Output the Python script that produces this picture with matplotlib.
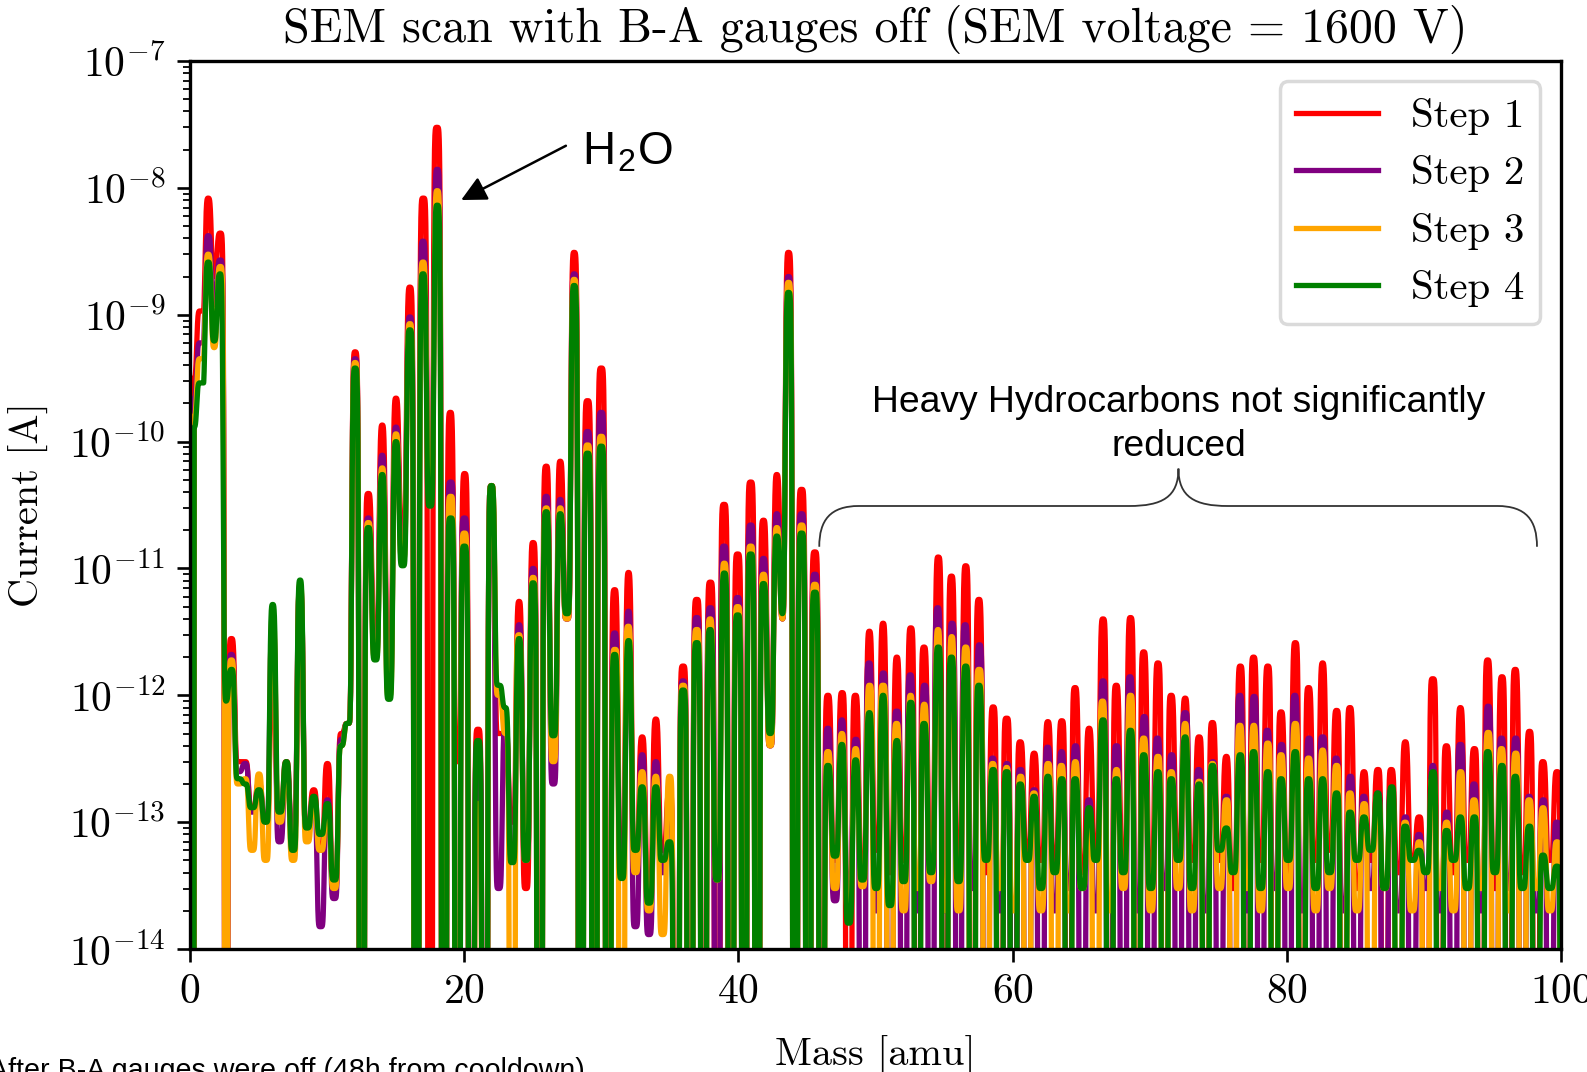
import numpy as np
import matplotlib
matplotlib.use("Agg")
import matplotlib.pyplot as plt
from matplotlib.path import Path
from matplotlib.patches import PathPatch
from matplotlib.transforms import blended_transform_factory

OFF = 1e-16  # reading below the 1e-14 floor (zero / negative current)

masses = np.arange(1, 101)

# drift of the measured peak positions from the integer mass [amu]
drift_mass = [1, 2, 3, 30, 40, 43, 44, 47, 80, 100]
drift_amu = [0.33, 0.2, 0.04, 0.0, -0.05, -0.2, -0.36, -0.45, -0.4, -0.3]

scan_start_amu = 0.3
shoulder_amu = 0.72
scan_start = [3.2e-10, 2.2e-10, 1.6e-10, 1.3e-10]
shoulder = [1.07e-9, 6.0e-10, 4.5e-10, 2.9e-10]

step_labels = ["Step 1", "Step 2", "Step 3", "Step 4"]
step_colors = ["red", "purple", "orange", "green"]

# peak currents [A], masses 1..100
step1_peaks = [
    8.3e-9, 4.4e-9, 2.8e-12, 3.0e-13, 2.0e-13, 1.2e-12, 3.0e-13, 6.6e-12, 1.8e-13, 2.9e-13,
    5.0e-13, 5.1e-10, 3.9e-11, 1.35e-10, 2.2e-10, 1.65e-9, 8.3e-9, 3.0e-8, 1.7e-10, 5.6e-11,
    5.4e-13, 4.5e-11, 5.0e-13, 5.5e-12, 1.6e-11, 6.4e-11, 7.0e-11, 3.1e-9, 2.1e-10, 3.8e-10,
    6.8e-12, 9.3e-12, 4.7e-13, 6.5e-13, 1.7e-13, 1.7e-12, 5.7e-12, 7.8e-12, 3.2e-11, 1.3e-11,
    4.8e-11, 2.4e-11, 5.5e-11, 3.1e-9, 4.2e-11, 1.35e-11, 1.0e-12, 1.05e-12, 1.0e-12, 3.2e-12,
    3.7e-12, 2.0e-12, 3.4e-12, 2.4e-12, 1.23e-11, 8.7e-12, 1.05e-11, 5.7e-12, 8.1e-13, 6.6e-13,
    4.3e-13, 3.5e-13, 6.2e-13, 6.3e-13, 1.15e-12, 5.5e-13, 4.0e-12, 1.2e-12, 4.1e-12, 2.2e-12,
    1.8e-12, 1.0e-12, 9.5e-13, 4.7e-13, 6.1e-13, 3.3e-13, 1.7e-12, 2.0e-12, 1.7e-12, 7.4e-13,
    2.6e-12, 1.15e-12, 1.8e-12, 7.6e-13, 8.0e-13, 2.5e-13, 2.6e-13, 2.6e-13, 4.3e-13, 1.1e-13,
    1.35e-12, 4.0e-13, 8.0e-13, 3.8e-13, 1.9e-12, 1.4e-12, 1.6e-12, 5.2e-13, 3.0e-13, 2.5e-13]
step2_peaks = [
    4.2e-9, 2.7e-9, 2.1e-12, 2.9e-13, 1.8e-13, 3.5e-12, 2.5e-13, 7.0e-12, 1.5e-13, 1.5e-13,
    4.5e-13, 4.5e-10, 2.5e-11, 7.8e-11, 1.3e-10, 9.6e-10, 3.8e-9, 1.4e-8, 4.8e-11, 2.5e-11,
    4.0e-13, 4.5e-11, 6.0e-13, 3.6e-12, 1.0e-11, 3.7e-11, 3.5e-11, 2.1e-9, 1.2e-10, 1.7e-10,
    3.1e-12, 4.6e-12, 3.4e-13, 3.0e-13, 1.5e-13, 1.3e-12, 4.1e-12, 4.9e-12, 1.5e-11, 5.9e-12,
    2.2e-11, 1.2e-11, 2.7e-11, 2.0e-9, 2.7e-11, 9.0e-12, 5.5e-13, 6.4e-13, 4.5e-13, 1.8e-12,
    1.5e-12, 7.5e-13, 1.45e-12, 1.2e-12, 4.9e-12, 3.7e-12, 3.6e-12, 2.5e-12, 3.2e-13, 2.9e-13,
    2.6e-13, 1.8e-13, 3.9e-13, 3.6e-13, 4.0e-13, 1.5e-13, 1.3e-12, 4.0e-13, 1.4e-12, 6.8e-13,
    4.6e-13, 3.4e-13, 7.3e-13, 2.6e-13, 3.0e-13, 1.6e-13, 1.0e-12, 9.8e-13, 5.3e-13, 4.1e-13,
    1.0e-12, 4.6e-13, 4.7e-13, 3.2e-13, 2.3e-13, 1.6e-13, 1.7e-13, 1.8e-13, 1.1e-13, 8.0e-14,
    2.8e-13, 1.2e-13, 4.1e-13, 2.0e-13, 8.2e-13, 4.6e-13, 4.6e-13, 1.6e-13, 1.5e-13, 1.0e-13]
step3_peaks = [
    3.0e-9, 2.4e-9, 1.9e-12, 2.2e-13, 2.4e-13, 4.0e-12, 2.6e-13, 7.5e-12, 1.4e-13, 1.2e-13,
    4.0e-13, 4.2e-10, 2.3e-11, 6.2e-11, 1.15e-10, 8.5e-10, 2.6e-9, 9.5e-9, 3.7e-11, 1.9e-11,
    1.4e-13, 4.5e-11, 5.0e-13, 3.0e-12, 8.5e-12, 3.0e-11, 3.0e-11, 1.9e-9, 9.4e-11, 1.1e-10,
    2.3e-12, 3.5e-12, 2.5e-13, 2.3e-13, 2.3e-13, 1.2e-12, 3.3e-12, 4.0e-12, 1.1e-11, 5.0e-12,
    1.5e-11, 9.0e-12, 2.1e-11, 1.8e-9, 2.2e-11, 7.5e-12, 3.6e-13, 5.0e-13, 3.8e-13, 1.2e-12,
    1.2e-12, 6.0e-13, 1.0e-12, 8.5e-13, 3.3e-12, 2.9e-12, 2.4e-12, 1.6e-12, 2.9e-13, 2.7e-13,
    2.3e-13, 1.7e-13, 2.9e-13, 2.8e-13, 3.0e-13, 1.0e-13, 9.0e-13, 2.6e-13, 1.0e-12, 4.6e-13,
    3.3e-13, 2.5e-13, 6.0e-13, 2.1e-13, 2.9e-13, 1.5e-13, 5.8e-13, 5.8e-13, 4.2e-13, 3.4e-13,
    6.0e-13, 3.2e-13, 3.7e-13, 2.8e-13, 1.7e-13, 1.4e-13, 1.6e-13, 1.6e-13, 1.0e-13, 7.0e-14,
    2.2e-13, 1.0e-13, 2.5e-13, 1.5e-13, 5.1e-13, 3.8e-13, 3.5e-13, 1.5e-13, 1.3e-13, 7.0e-14]
step4_peaks = [
    2.6e-9, 2.1e-9, 1.6e-12, 2.0e-13, 1.8e-13, 5.2e-12, 3.0e-13, 8.1e-12, 1.6e-13, 1.4e-13,
    4.0e-13, 3.8e-10, 2.1e-11, 5.5e-11, 1.0e-10, 7.6e-10, 2.1e-9, 7.3e-9, 2.5e-11, 1.5e-11,
    4.4e-13, 4.5e-11, 8.0e-13, 2.8e-12, 7.7e-12, 2.8e-11, 2.7e-11, 1.7e-9, 8.1e-11, 9.2e-11,
    2.1e-12, 2.7e-12, 1.9e-13, 1.9e-13, 7.0e-14, 1.1e-12, 2.6e-12, 3.3e-12, 9.2e-12, 4.3e-12,
    1.3e-11, 7.6e-12, 1.8e-11, 1.5e-9, 1.9e-11, 6.5e-12, 2.8e-13, 4.1e-13, 3.1e-13, 7.3e-13,
    1.0e-12, 4.4e-13, 8.8e-13, 6.0e-13, 2.4e-12, 2.0e-12, 1.7e-12, 1.2e-12, 2.6e-13, 2.5e-13,
    2.0e-13, 1.6e-13, 2.3e-13, 2.2e-13, 2.2e-13, 1.3e-13, 6.4e-13, 2.2e-13, 5.3e-13, 3.4e-13,
    2.5e-13, 2.2e-13, 4.7e-13, 2.0e-13, 2.8e-13, 9.0e-14, 3.4e-13, 3.6e-13, 2.5e-13, 2.2e-13,
    3.6e-13, 2.2e-13, 2.2e-13, 1.7e-13, 1.2e-13, 1.1e-13, 1.7e-13, 1.9e-13, 9.3e-14, 6.0e-14,
    2.5e-13, 8.6e-14, 1.1e-13, 1.1e-13, 3.6e-13, 2.8e-13, 2.3e-13, 9.3e-14, 5.5e-14, 4.5e-14]

# minimum current between mass m and m+1 [A], m = 1..99
step1_valleys = [
    2.0e-9, OFF, 3e-13, 1.3e-13, 1e-13, 1.2e-13, 8e-14, 9e-14, 6e-14, 3e-14,
    6e-13, OFF, 3e-12, 2e-12, 2e-11, OFF, OFF, OFF, 3e-13, OFF,
    OFF, 5e-13, 1e-13, 3e-14, OFF, 3e-13, 4e-12, OFF, OFF, OFF,
    5e-14, 5e-14, 3e-14, 6e-14, OFF, OFF, OFF, OFF, OFF, OFF,
    OFF, 4e-13, 4e-12, OFF, OFF, OFF, 5e-14, OFF, 4e-14, 6e-14,
    4e-14, 5e-14, OFF, 6e-14, OFF, 5e-14, OFF, 4e-14, OFF, OFF,
    6e-14, 5e-14, 5e-14, OFF, 4e-14, 6e-14, OFF, 5e-14, OFF, 4e-14,
    OFF, 6e-14, 5e-14, OFF, 5e-14, 3e-14, OFF, 5e-14, OFF, 4e-14,
    OFF, 5e-14, 6e-14, OFF, 3e-14, 5e-14, OFF, 4e-14, 5e-14, OFF,
    OFF, 4e-14, 5e-14, OFF, 3e-14, OFF, 4e-14, OFF, 5e-14]
step2_valleys = [
    1.2e-9, OFF, 2.5e-13, 1.2e-13, 1e-13, 7e-14, 8e-14, 9e-14, 1.5e-14, 2.5e-14,
    6e-13, OFF, 2.2e-12, 1.2e-12, 1.4e-11, OFF, 5e-11, OFF, OFF, OFF,
    OFF, 3e-14, 5e-14, 5e-14, OFF, 2e-13, 4e-12, OFF, OFF, OFF,
    4e-14, 1.5e-14, 1.3e-14, 4e-14, OFF, OFF, OFF, OFF, OFF, OFF,
    OFF, 4e-13, 4e-12, OFF, OFF, OFF, 2.4e-14, 3e-14, OFF, 2e-14,
    OFF, OFF, 2e-14, OFF, 2e-14, OFF, 3e-14, OFF, 2e-14, OFF,
    OFF, OFF, 2e-14, 3e-14, OFF, 2e-14, OFF, OFF, 2e-14, OFF,
    3e-14, OFF, OFF, 2e-14, OFF, OFF, 2e-14, OFF, 3e-14, OFF,
    2e-14, OFF, OFF, 2e-14, OFF, 3e-14, OFF, 2e-14, OFF, 3e-14,
    2e-14, OFF, OFF, 2e-14, OFF, 3e-14, OFF, 2e-14, OFF]
step3_valleys = [
    5.5e-10, OFF, 2e-13, 6e-14, 5e-14, 1e-13, 5e-14, 7e-14, 6e-14, 3e-14,
    6e-13, OFF, 2e-12, 1e-12, 1.2e-11, OFF, 4e-11, OFF, OFF, OFF,
    OFF, 1e-12, OFF, 5e-14, OFF, 3e-13, 4e-12, OFF, OFF, OFF,
    OFF, 4e-14, 2e-14, 1.3e-14, OFF, OFF, OFF, 3.5e-14, OFF, OFF,
    OFF, 4e-13, 4e-12, OFF, OFF, OFF, 3e-14, 2e-14, 3.1e-14, OFF,
    OFF, 2e-14, 3e-14, 3.4e-14, 2e-14, 2e-14, OFF, OFF, 3e-14, 2e-14,
    OFF, 2e-14, OFF, 2e-14, 3e-14, OFF, 2e-14, 3e-14, OFF, 2e-14,
    OFF, 3e-14, 2e-14, OFF, 3e-14, OFF, 3e-14, 2e-14, OFF, 3e-14,
    OFF, 2e-14, 3e-14, OFF, 2e-14, OFF, 3e-14, OFF, 2e-14, OFF,
    3e-14, 2e-14, OFF, 3e-14, OFF, 2e-14, OFF, 3e-14, 2e-14]
step4_valleys = [
    6.2e-10, 9e-13, 2.2e-13, 1.3e-13, 1e-13, 1.2e-13, 6e-14, 9e-14, 8e-14, 3.5e-14,
    6e-13, OFF, 1.9e-12, 9.3e-13, 1.05e-11, OFF, 3.1e-11, OFF, OFF, OFF,
    OFF, 1.2e-12, 4.8e-14, 5e-14, OFF, 4.8e-13, 4.4e-12, OFF, OFF, OFF,
    3.6e-14, 6e-14, 2.3e-14, 5e-14, OFF, OFF, OFF, 3.5e-14, OFF, OFF,
    OFF, 5e-13, 4.4e-12, OFF, OFF, OFF, 5.4e-14, 1.6e-14, 3.5e-14, 3e-14,
    2.2e-14, 3.4e-14, OFF, 4e-14, OFF, 3.4e-14, OFF, 5e-14, OFF, OFF,
    5e-14, 3e-14, 4e-14, OFF, 3e-14, 5e-14, OFF, 4e-14, OFF, 3e-14,
    OFF, 5e-14, 3e-14, OFF, 6e-14, 4e-14, OFF, 3e-14, OFF, 5e-14,
    OFF, 3e-14, 4e-14, OFF, 5e-14, 6e-14, 3e-14, OFF, 5e-14, 4e-14,
    OFF, 5e-14, 3e-14, OFF, 4e-14, OFF, 3e-14, OFF, 3e-14]

all_peaks = [step1_peaks, step2_peaks, step3_peaks, step4_peaks]
all_valleys = [step1_valleys, step2_valleys, step3_valleys, step4_valleys]

# peak shape: flank where current falls to zero, and blend into a finite valley
flank_w, flank_p = 0.21, 6
blend_w, blend_p = 0.25, 4


def scan_trace(i, x):
    # nodes: peaks at the drifted mass positions, valleys half-way between
    centres = masses + np.interp(masses, drift_mass, drift_amu)
    mids = (centres[:-1] + centres[1:]) / 2
    nx = [scan_start_amu - 0.01, scan_start_amu, shoulder_amu, 1.0]
    ny = [OFF, scan_start[i], shoulder[i], shoulder[i]]
    pk = [False, False, True, False]
    for m in range(len(masses)):
        nx.append(centres[m]); ny.append(all_peaks[i][m]); pk.append(True)
        if m < len(mids):
            nx.append(mids[m]); ny.append(all_valleys[i][m]); pk.append(False)
    nx.append(centres[-1] + 0.5); ny.append(OFF); pk.append(False)
    nx, ly, pk = np.array(nx), np.log10(ny), np.array(pk)
    off = ly <= np.log10(OFF)

    j = np.clip(np.searchsorted(nx, x, side="right") - 1, 0, len(nx) - 2)
    x0, x1 = nx[j], nx[j + 1]
    h = x1 - x0
    u = np.clip((x - x0) / h, 0, 1)
    a, b = ly[j], ly[j + 1]
    down = pk[j] & ~pk[j + 1]
    up = ~pk[j] & pk[j + 1]
    # distance from the peak and the log level of the peak / valley
    dx = np.where(down, x - x0, x1 - x)
    top = np.where(down, a, b)
    bot = np.where(down, b, a)
    valley_off = np.where(down, off[j + 1], off[j])
    flank = top - 0.434 * (np.abs(dx) / flank_w) ** flank_p
    g = np.exp(-(np.abs(dx) / blend_w) ** blend_p)
    g_end = np.exp(-(h / blend_w) ** blend_p)
    blend = bot + (top - bot) * (g - g_end) / (1 - g_end)
    shaped = np.where(valley_off, flank, blend)
    out = np.where(down | up, shaped, a + (b - a) * u)
    out = np.maximum(out, np.log10(OFF))
    return 10 ** out


plt.rcParams["font.family"] = "serif"
plt.rcParams["font.serif"] = ["cmr10"]
plt.rcParams["mathtext.fontset"] = "cm"
plt.rcParams["axes.formatter.use_mathtext"] = True
plt.rcParams["axes.unicode_minus"] = False

fig = plt.figure(figsize=(15.87, 10.72), dpi=100)
ax = fig.add_axes([0.1197, 0.1147, 0.8639, 0.8284])

x = np.linspace(scan_start_amu - 0.01, 100.5, 40000)
for i in range(4):
    ax.plot(x, scan_trace(i, x), color=step_colors[i], lw=3.8, label=step_labels[i])

ax.set_yscale("log")
ax.set_xlim(0, 100)
ax.set_ylim(1e-14, 1e-7)
ax.set_xticks([0, 20, 40, 60, 80, 100])

for s in ax.spines.values():
    s.set_linewidth(2.4)
ax.tick_params(which="major", length=9.5, width=1.9, labelsize=30, pad=8)
ax.tick_params(which="minor", length=5, width=1.3)

ax.set_title("SEM scan with B-A gauges off (SEM voltage = 1600 V)", fontsize=34.5, pad=14)
ax.set_xlabel("Mass [amu]", fontsize=29, labelpad=18)
ax.set_ylabel("Current [A]", fontsize=29)
ax.yaxis.set_label_coords(-0.103, 0.5)

leg = ax.legend(loc="upper right", fontsize=29.5, handlelength=2.0, fancybox=True)
leg.get_frame().set_linewidth(2.5)
leg.get_frame().set_edgecolor("0.82")
for ln in leg.get_lines():
    ln.set_linewidth(3.8)

# annotations
bt = blended_transform_factory(ax.transData, ax.transAxes)
ax.text(28.6, 0.884, r"H$_{\mathregular{2}}$O", transform=bt, family="Liberation Sans",
        fontsize=33, ha="left", va="baseline")
ax.annotate("", xy=(19.6, 0.842), xycoords=bt, xytext=(27.6, 0.906), textcoords=bt,
            arrowprops=dict(arrowstyle="-|>", color="black", lw=1.8, mutation_scale=38))

ax.text(72.1, 0.5906, "Heavy Hydrocarbons not significantly\nreduced", transform=bt,
        family="Liberation Sans", fontsize=26.8, ha="center", va="center", linespacing=1.32)

# curly brace over the heavy mass range
bx0, bx1, bxc = 45.9, 98.25, 72.1
y_end, y_bar, y_tip = 0.453, 0.4989, 0.541
verts = [(bx0, y_end), (bx0, y_end + 0.03), (bx0 + 0.8, y_bar), (bx0 + 2.9, y_bar),
         (bxc - 3.6, y_bar),
         (bxc - 1.2, y_bar), (bxc, y_bar + 0.01), (bxc, y_tip),
         (bxc, y_bar + 0.01), (bxc + 1.2, y_bar), (bxc + 3.6, y_bar),
         (bx1 - 2.9, y_bar),
         (bx1 - 0.8, y_bar), (bx1, y_end + 0.03), (bx1, y_end)]
codes = [Path.MOVETO, Path.CURVE4, Path.CURVE4, Path.CURVE4, Path.LINETO,
         Path.CURVE4, Path.CURVE4, Path.CURVE4, Path.CURVE4, Path.CURVE4, Path.CURVE4,
         Path.LINETO, Path.CURVE4, Path.CURVE4, Path.CURVE4]
ax.add_patch(PathPatch(Path(verts, codes), transform=bt, fill=False, lw=1.3,
                       edgecolor="#333333", clip_on=False))

fig.text(-11 / 1587, -7 / 1072, "After B-A gauges were off (48h from cooldown)",
         family="Liberation Sans", fontsize=20.6, ha="left", va="baseline")

fig.savefig("out.png", dpi=100)
